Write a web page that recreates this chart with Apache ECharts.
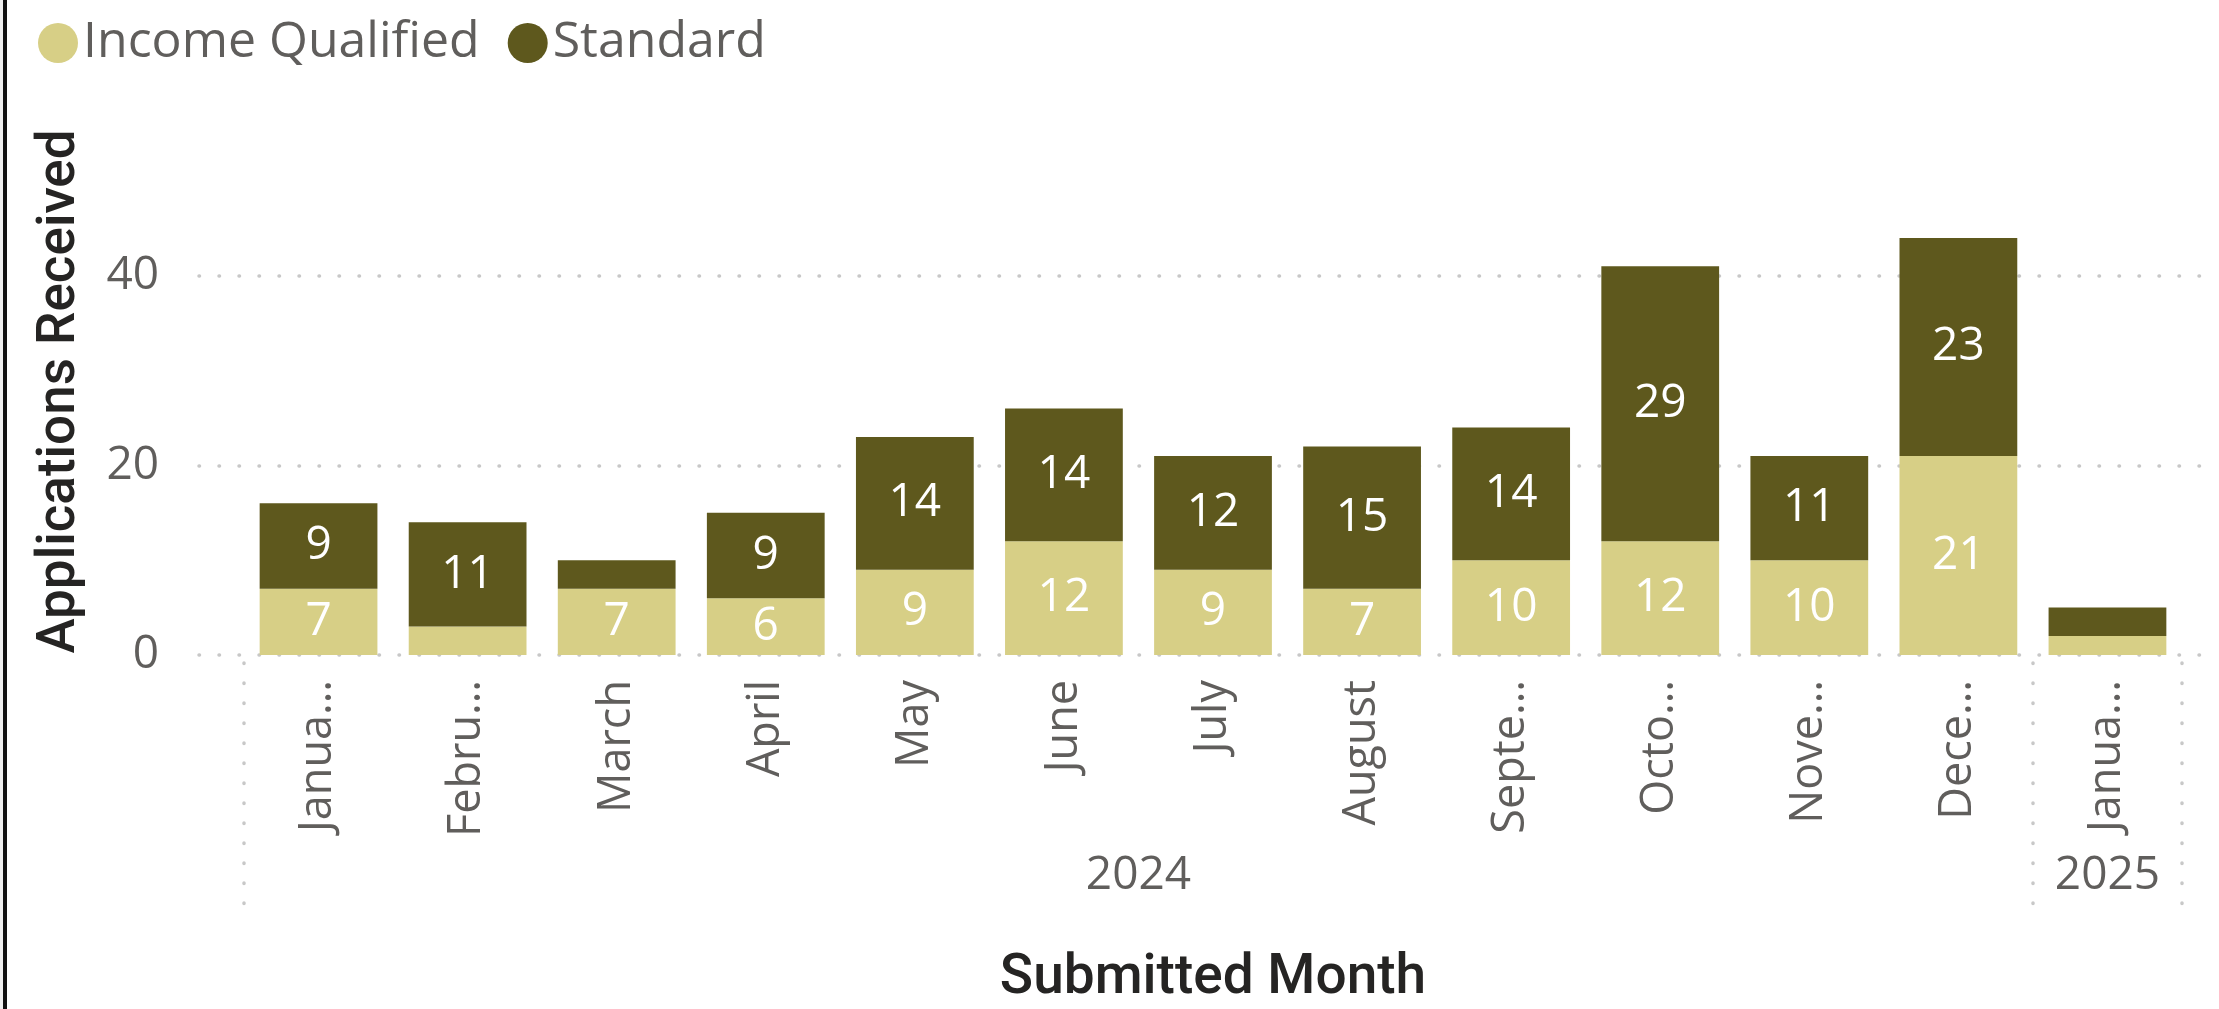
<!DOCTYPE html>
<html lang="en">
<head>
    <meta charset="UTF-8">
    <title>Applications Received</title>
    <script src="https://cdn.jsdelivr.net/npm/echarts@6/dist/echarts.min.js"></script>
    <style>
        html, body { margin: 0; padding: 0; background: #fff; }
        #chart { width: 2219px; height: 1009px; }
    </style>
</head>
<body>
<div id="chart"></div>
<script>
    // data
    var months = ['January', 'February', 'March', 'April', 'May', 'June', 'July',
        'August', 'September', 'October', 'November', 'December', 'January'];
    var monthLabels = ['Janua…', 'Febru…', 'March', 'April', 'May', 'June', 'July',
        'August', 'Septe…', 'Octo…', 'Nove…', 'Dece…', 'Janua…'];
    var years = ['2024', '2025'];
    var monthYear = [0, 0, 0, 0, 0, 0, 0, 0, 0, 0, 0, 0, 1];
    var incomeQualified = [7, 3, 7, 6, 9, 12, 9, 7, 10, 12, 10, 21, 2];
    var standard = [9, 11, 3, 9, 14, 14, 12, 15, 14, 29, 11, 23, 3];
    var yTicks = [0, 20, 40];

    // year groups -> label position and separators
    var yearCenters = [], yearBounds = [-0.5];
    years.forEach(function (y, k) {
        var idx = [];
        monthYear.forEach(function (m, i) { if (m === k) idx.push(i); });
        yearCenters.push((idx[0] + idx[idx.length - 1]) / 2);
        yearBounds.push(idx[idx.length - 1] + 0.5);
    });

    var gridColor = '#C8C8C8';
    var dotted = { color: gridColor, width: 3.5, type: [0.5, 19.5], cap: 'round' };
    var textGrey = '#605E5C';

    var chart = echarts.init(document.getElementById('chart'));
    var option = {
        animation: false,
        backgroundColor: '#fff',
        color: ['#D7CF86', '#5E581D'],
        graphic: [
            { type: 'rect', left: 0, top: 0, shape: { width: 3, height: 1009 }, style: { fill: '#EFEFEF' } },
            { type: 'rect', left: 3, top: 0, shape: { width: 4, height: 1009 }, style: { fill: '#111' } }
        ],
        legend: {
            left: 33,
            top: 13,
            icon: 'circle',
            itemWidth: 40,
            itemHeight: 40,
            itemGap: 28,
            textStyle: {
                fontFamily: 'Open Sans',
                fontSize: 50,
                color: textGrey
            },
            data: ['Income Qualified', 'Standard']
        },
        grid: [
            { left: 199, right: 17, top: 200, bottom: 354 },
            { left: 244, right: 37, top: 200, bottom: 354 }
        ],
        xAxis: [
            { gridIndex: 0, type: 'value', show: false },
            {
                gridIndex: 1,
                type: 'category',
                data: months,
                axisLine: { show: false },
                axisTick: { show: false },
                axisLabel: {
                    interval: 0,
                    rotate: 90,
                    margin: 25,
                    fontFamily: 'Open Sans',
                    fontSize: 45,
                    color: textGrey,
                    formatter: function (v, i) { return monthLabels[i]; }
                },
                name: 'Submitted Month',
                nameLocation: 'middle',
                nameGap: 297,
                nameTextStyle: {
                    fontFamily: 'Roboto',
                    fontWeight: 500,
                    fontSize: 55,
                    color: '#252423'
                }
            },
            {
                gridIndex: 1,
                type: 'value',
                min: -0.5,
                max: months.length - 0.5,
                position: 'bottom',
                offset: 8,
                splitLine: { show: false },
                axisLine: { show: false },
                axisTick: {
                    show: true,
                    customValues: yearBounds,
                    length: 260,
                    lineStyle: dotted
                },
                axisLabel: {
                    customValues: yearCenters,
                    margin: 190,
                    fontFamily: 'Open Sans',
                    fontSize: 46,
                    color: textGrey,
                    formatter: function (v) { return years[yearCenters.indexOf(v)]; }
                }
            }
        ],
        yAxis: [
            {
                gridIndex: 0,
                type: 'value',
                min: 0,
                max: 48,
                interval: 20,
                axisLine: { show: false },
                axisTick: { show: false },
                axisLabel: {
                    margin: 40,
                    fontFamily: 'Open Sans',
                    fontSize: 46,
                    color: textGrey,
                    showMaxLabel: false,
                    formatter: function (v) { return yTicks.indexOf(v) >= 0 ? v : ''; }
                },
                splitLine: { show: true, showMaxLine: false, lineStyle: dotted },
                name: 'Applications Received',
                nameLocation: 'middle',
                nameRotate: 90,
                nameGap: 112,
                nameTextStyle: {
                    fontFamily: 'Roboto',
                    fontWeight: 500,
                    fontSize: 53,
                    color: '#252423',
                    padding: [0, 0, 0, 72]
                }
            },
            {
                gridIndex: 1,
                type: 'value',
                min: 0,
                max: 48,
                interval: 20,
                show: false
            }
        ],
        series: [
            {
                name: 'Income Qualified',
                type: 'bar',
                stack: 'total',
                xAxisIndex: 1,
                yAxisIndex: 1,
                barCategoryGap: '21%',
                data: incomeQualified,
                label: {
                    show: true,
                    position: 'inside',
                    color: '#fff',
                    fontFamily: 'Open Sans',
                    fontSize: 46,
                    formatter: function (p) { return p.value >= 5 ? p.value : ''; }
                }
            },
            {
                name: 'Standard',
                type: 'bar',
                stack: 'total',
                xAxisIndex: 1,
                yAxisIndex: 1,
                barCategoryGap: '21%',
                data: standard,
                label: {
                    show: true,
                    position: 'inside',
                    color: '#fff',
                    fontFamily: 'Open Sans',
                    fontSize: 46,
                    formatter: function (p) { return p.value >= 5 ? p.value : ''; }
                }
            }
        ]
    };
    chart.setOption(option);
</script>
</body>
</html>
